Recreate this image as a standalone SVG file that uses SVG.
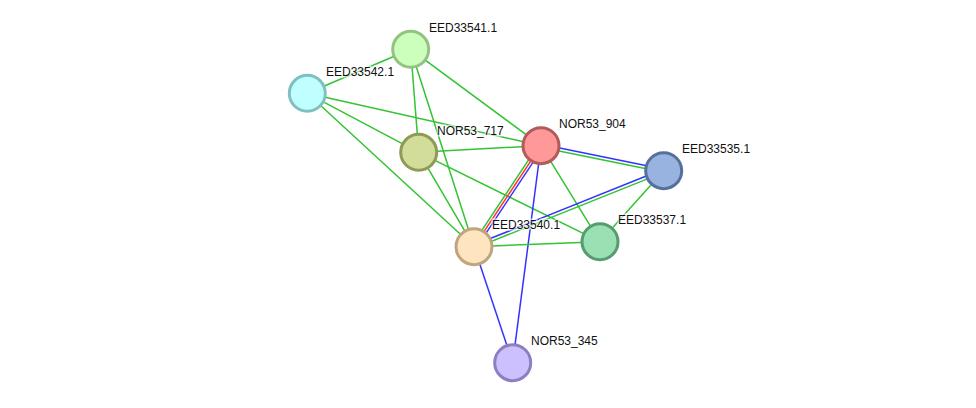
<svg xmlns="http://www.w3.org/2000/svg" width="976" height="408" viewBox="0 0 976 408">
<style>
.g{stroke:#33c433;stroke-width:1.5;fill:none}
.b{stroke:#3333ff;stroke-width:1.5;fill:none}
.r{stroke:#ff3333;stroke-width:1.5;fill:none}
.n{stroke-width:3}
text{font-family:"Liberation Sans",Arial,sans-serif;font-size:12px;fill:#111;stroke:#fff;stroke-width:3;stroke-opacity:0.6;paint-order:stroke}
</style>
<rect width="976" height="408" fill="#fff"/>
<g id="edges">
<line class="g" x1="410.7" y1="49.3" x2="307.3" y2="93.3"/>
<line class="g" x1="410.7" y1="49.3" x2="541" y2="145.7"/>
<line class="g" x1="410.7" y1="49.3" x2="418.7" y2="152.3"/>
<line class="g" x1="410.7" y1="49.3" x2="474" y2="246.7"/>
<line class="g" x1="307.3" y1="93.3" x2="541" y2="145.7"/>
<line class="g" x1="307.3" y1="93.3" x2="418.7" y2="152.3"/>
<line class="g" x1="307.3" y1="93.3" x2="474" y2="246.7"/>
<line class="g" x1="418.7" y1="152.3" x2="541" y2="145.7"/>
<line class="g" x1="418.7" y1="152.3" x2="474" y2="246.7"/>
<line class="g" x1="418.7" y1="152.3" x2="600" y2="241.7"/>
<line class="b" x1="541.3" y1="144.2" x2="664" y2="169.2"/>
<line class="g" x1="540.7" y1="147.2" x2="663.4" y2="172.2"/>
<line class="g" x1="541" y1="145.7" x2="600" y2="241.7"/>
<line class="g" x1="538.9" y1="144.3" x2="471.9" y2="245.3"/>
<line class="r" x1="541" y1="145.7" x2="474" y2="246.7"/>
<line class="b" x1="543.1" y1="147.1" x2="476.1" y2="248.1"/>
<line class="b" x1="541" y1="145.7" x2="512.7" y2="362.7"/>
<line class="b" x1="473.4" y1="245.3" x2="663.1" y2="169.3"/>
<line class="g" x1="474.6" y1="248.1" x2="664.3" y2="172.1"/>
<line class="g" x1="663.7" y1="170.7" x2="600" y2="241.7"/>
<line class="g" x1="474" y1="246.7" x2="600" y2="241.7"/>
<line class="b" x1="474" y1="246.7" x2="512.7" y2="362.7"/>
</g>
<g id="EED33541.1"><circle class="n" cx="410.7" cy="49.3" r="18" fill="#ccffbb" stroke="#93c283"/><text x="429" y="32">EED33541.1</text></g>
<g id="EED33542.1"><circle class="n" cx="307.3" cy="93.3" r="18" fill="#c0ffff" stroke="#7fc0c0"/><text x="326" y="76">EED33542.1</text></g>
<g id="NOR53_717"><circle class="n" cx="418.7" cy="152.3" r="18" fill="#d2dd99" stroke="#8f9a58"/><text x="437" y="135">NOR53_717</text></g>
<g id="NOR53_904"><circle class="n" cx="541" cy="145.7" r="18" fill="#ff9999" stroke="#b35a5a"/><text x="559" y="128">NOR53_904</text></g>
<g id="EED33535.1"><circle class="n" cx="663.7" cy="170.7" r="18" fill="#99b3e0" stroke="#57709b"/><text x="682" y="153">EED33535.1</text></g>
<g id="EED33537.1"><circle class="n" cx="600" cy="241.7" r="18" fill="#99e0b3" stroke="#579b70"/><text x="618" y="224">EED33537.1</text></g>
<g id="EED33540.1"><circle class="n" cx="474" cy="246.7" r="18" fill="#ffe4c0" stroke="#c0a57f"/><text x="492" y="229">EED33540.1</text></g>
<g id="NOR53_345"><circle class="n" cx="512.7" cy="362.7" r="18" fill="#ccc0ff" stroke="#8c80c0"/><text x="531" y="345">NOR53_345</text></g>
</svg>
